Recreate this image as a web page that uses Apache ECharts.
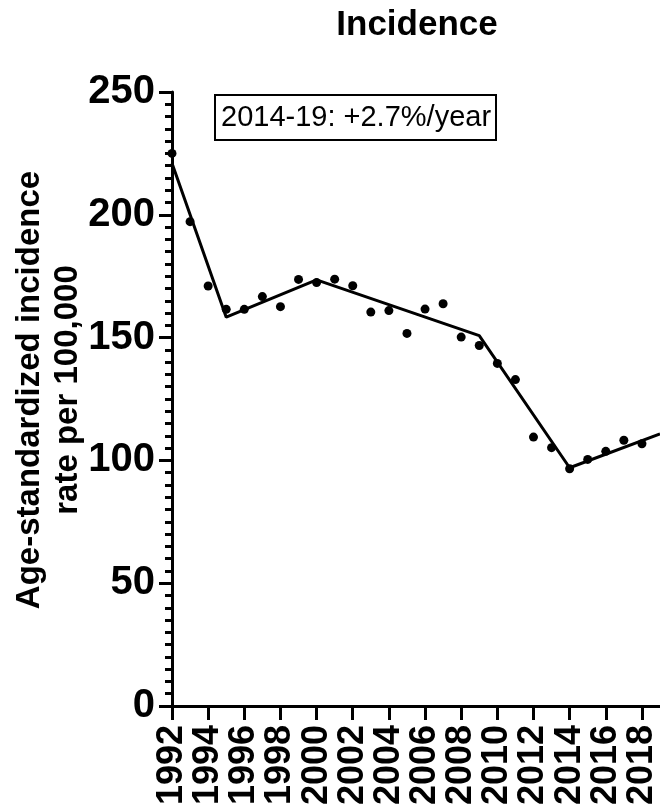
<!DOCTYPE html>
<html>
<head>
<meta charset="utf-8">
<script src="https://cdn.jsdelivr.net/npm/echarts@6/dist/echarts.min.js"></script>
<style>
  html, body { margin: 0; padding: 0; background: #fff; }
  #chart { width: 660px; height: 809px; }
</style>
</head>
<body>
<div id="chart"></div>
<script>
// Observed yearly age-standardized incidence rates
const years = [1992, 1993, 1994, 1995, 1996, 1997, 1998, 1999, 2000, 2001, 2002, 2003, 2004, 2005,
               2006, 2007, 2008, 2009, 2010, 2011, 2012, 2013, 2014, 2015, 2016, 2017, 2018];
const rates = [225.0, 197.2, 171.0, 161.5, 161.5, 166.7, 162.6, 173.7, 172.4, 173.8, 171.1, 160.4, 161.0, 151.7,
               161.6, 163.8, 150.2, 146.8, 139.5, 132.9, 109.5, 105.2, 96.6, 100.4, 103.7, 108.2, 106.8];

// Joinpoint trend: segment end points
const trendYears = [1992, 1995, 2000, 2009, 2014, 2019];
const trendRates = [221.0, 158.3, 173.5, 150.8, 97.0, 110.8];

const chartTitle = 'Incidence';
const yAxisTitle = 'Age-standardized incidence\nrate per 100,000';
const trendNote = '2014-19: +2.7%/year';

const FONT = '"Liberation Sans", Arial, Helvetica, sans-serif';

const chart = echarts.init(document.getElementById('chart'), null, { renderer: 'canvas' });

chart.setOption({
  animation: false,
  backgroundColor: '#fff',
  grid: { left: 172, right: 0, top: 92, bottom: 103, containLabel: false },
  title: [{
    text: trendNote,
    left: 215,
    top: 95,
    padding: [5, 5, 5, 6],
    borderColor: '#000',
    borderWidth: 2,
    textStyle: { fontFamily: FONT, fontSize: 29, fontWeight: 'normal', color: '#000', lineHeight: 35 }
  }],
  graphic: [{
    type: 'text',
    x: 417,
    y: 8,
    style: {
      text: chartTitle,
      font: 'bold 35px ' + FONT,
      fill: '#000',
      textAlign: 'center',
      textVerticalAlign: 'top'
    }
  }, {
    // Y axis title, two lines, reading bottom to top
    type: 'text',
    x: 49,
    y: 390,
    rotation: Math.PI / 2,
    style: {
      text: yAxisTitle,
      font: 'bold 33px ' + FONT,
      lineHeight: 38,
      fill: '#000',
      textAlign: 'center',
      textVerticalAlign: 'middle'
    }
  }],
  xAxis: {
    type: 'value',
    min: 1992,
    max: 2019,
    interval: 2,
    splitLine: { show: false },
    axisLine: { show: true, onZero: false, lineStyle: { color: '#000', width: 3 } },
    axisTick: { show: true, length: 14, lineStyle: { color: '#000', width: 3 } },
    axisLabel: {
      rotate: 90,
      margin: 19,
      showMaxLabel: false,
      color: '#000',
      fontFamily: FONT,
      fontWeight: 'bold',
      fontSize: 36,
      formatter: v => String(v)
    }
  },
  yAxis: {
    type: 'value',
    min: 0,
    max: 250,
    interval: 50,
    splitLine: { show: false },
    axisLine: { show: true, lineStyle: { color: '#000', width: 3 } },
    axisTick: { show: true, length: 13, lineStyle: { color: '#000', width: 3 } },
    minorTick: { show: true, splitNumber: 10, length: 7, lineStyle: { color: '#000', width: 3 } },
    axisLabel: {
      margin: 17,
      color: '#000',
      fontFamily: FONT,
      fontWeight: 'bold',
      fontSize: 40
    }
  },
  series: [
    {
      type: 'line',
      data: trendYears.map((y, i) => [y, trendRates[i]]),
      showSymbol: false,
      symbol: 'none',
      lineStyle: { color: '#000', width: 3 },
      clip: false,
      z: 2
    },
    {
      type: 'scatter',
      data: years.map((y, i) => [y, rates[i]]),
      symbol: 'circle',
      symbolSize: 9,
      itemStyle: { color: '#000', opacity: 1 },
      clip: false,
      z: 3
    }
  ]
});
</script>
</body>
</html>
